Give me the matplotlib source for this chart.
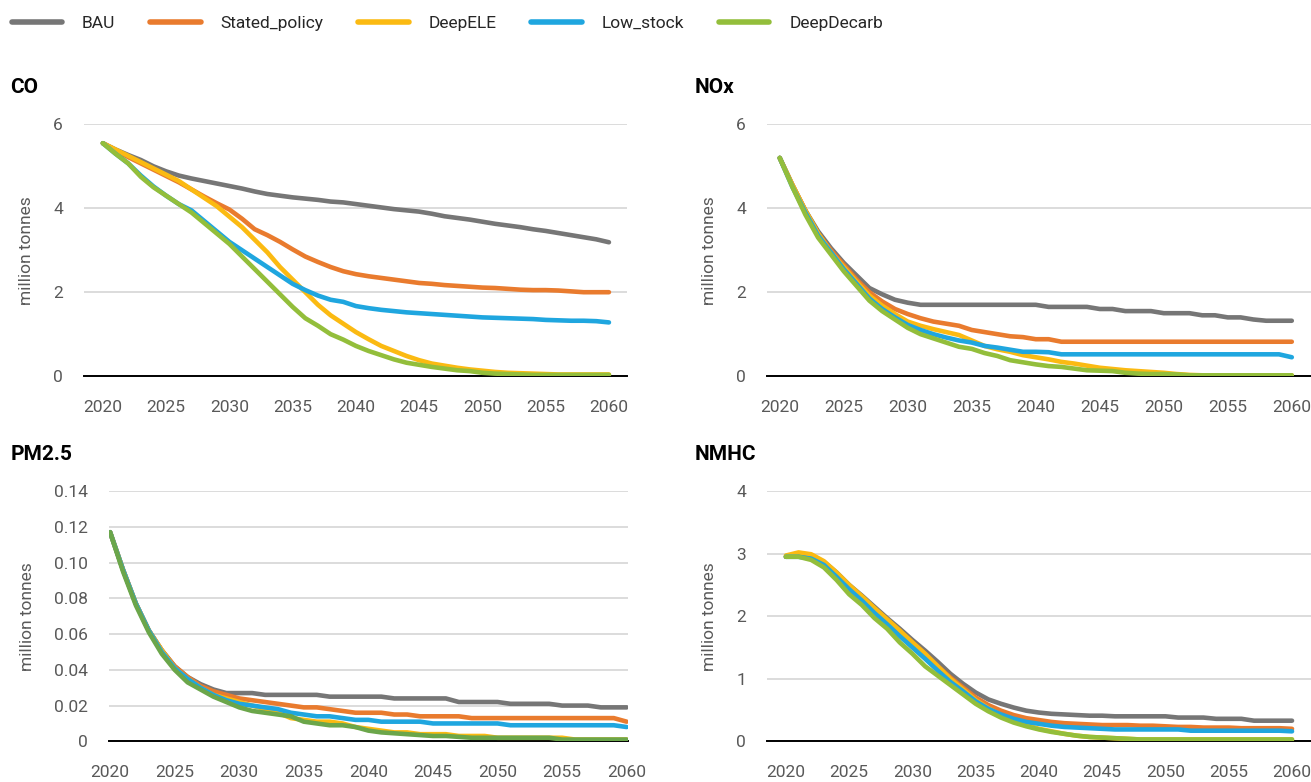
import numpy as np
import matplotlib
matplotlib.use("Agg")
import matplotlib.pyplot as plt
from matplotlib.lines import Line2D

plt.rcParams['font.family'] = ['Roboto', 'DejaVu Sans']

years = list(range(2020, 2061))
scenarios = ['BAU', 'Stated_policy', 'DeepELE', 'Low_stock', 'DeepDecarb']
colors = ['#767676', '#E97B2E', '#FBBA12', '#1FA6DF', '#93BE3B']

# CO, million tonnes
co_bau = [5.55, 5.40, 5.27, 5.15, 5.00, 4.88, 4.78, 4.71, 4.65, 4.59,
          4.53, 4.47, 4.40, 4.34, 4.30, 4.26, 4.23, 4.20, 4.16, 4.14,
          4.10, 4.06, 4.02, 3.98, 3.95, 3.92, 3.87, 3.81, 3.77, 3.73,
          3.68, 3.63, 3.59, 3.55, 3.50, 3.46, 3.41, 3.36, 3.31, 3.26, 3.19]
co_stated = [5.55, 5.38, 5.22, 5.07, 4.92, 4.77, 4.62, 4.45, 4.28, 4.12,
             3.97, 3.75, 3.50, 3.36, 3.20, 3.02, 2.85, 2.72, 2.60, 2.50,
             2.43, 2.38, 2.34, 2.30, 2.26, 2.22, 2.20, 2.17, 2.15, 2.13,
             2.11, 2.10, 2.08, 2.06, 2.05, 2.05, 2.04, 2.02, 2.00, 2.00, 2.00]
co_deepele = [5.55, 5.40, 5.25, 5.10, 4.95, 4.80, 4.65, 4.45, 4.25, 4.05,
              3.80, 3.55, 3.25, 2.95, 2.60, 2.30, 2.00, 1.70, 1.45, 1.25,
              1.05, 0.88, 0.72, 0.60, 0.48, 0.38, 0.30, 0.25, 0.20, 0.16,
              0.13, 0.10, 0.08, 0.07, 0.06, 0.05, 0.04, 0.04, 0.04, 0.04, 0.04]
co_lowstock = [5.55, 5.30, 5.07, 4.78, 4.52, 4.30, 4.10, 3.95, 3.70, 3.45,
               3.20, 3.00, 2.80, 2.60, 2.40, 2.20, 2.05, 1.92, 1.82, 1.77,
               1.67, 1.62, 1.58, 1.55, 1.52, 1.50, 1.48, 1.46, 1.44, 1.42,
               1.40, 1.39, 1.38, 1.37, 1.36, 1.34, 1.33, 1.32, 1.32, 1.31, 1.28]
co_deepdecarb = [5.55, 5.30, 5.07, 4.75, 4.50, 4.30, 4.10, 3.90, 3.65, 3.40,
                 3.15, 2.85, 2.55, 2.25, 1.95, 1.65, 1.38, 1.20, 1.00, 0.87,
                 0.72, 0.60, 0.50, 0.40, 0.32, 0.27, 0.22, 0.18, 0.14, 0.12,
                 0.08, 0.06, 0.05, 0.04, 0.03, 0.03, 0.03, 0.03, 0.03, 0.03, 0.03]

# NOx, million tonnes
nox_bau = [5.20, 4.55, 3.95, 3.45, 3.05, 2.70, 2.40, 2.10, 1.95, 1.82,
           1.75, 1.70, 1.70, 1.70, 1.70, 1.70, 1.70, 1.70, 1.70, 1.70,
           1.70, 1.65, 1.65, 1.65, 1.65, 1.60, 1.60, 1.55, 1.55, 1.55,
           1.50, 1.50, 1.50, 1.45, 1.45, 1.40, 1.40, 1.35, 1.32, 1.32, 1.32]
nox_stated = [5.20, 4.55, 3.95, 3.40, 3.00, 2.65, 2.30, 2.00, 1.78, 1.60,
              1.48, 1.38, 1.30, 1.25, 1.20, 1.10, 1.05, 1.00, 0.95, 0.93,
              0.88, 0.88, 0.82, 0.82, 0.82, 0.82, 0.82, 0.82, 0.82, 0.82,
              0.82, 0.82, 0.82, 0.82, 0.82, 0.82, 0.82, 0.82, 0.82, 0.82, 0.82]
nox_deepele = [5.20, 4.55, 3.95, 3.40, 2.95, 2.60, 2.25, 1.92, 1.68, 1.48,
               1.30, 1.20, 1.12, 1.05, 0.98, 0.85, 0.72, 0.64, 0.58, 0.50,
               0.45, 0.40, 0.34, 0.30, 0.25, 0.20, 0.17, 0.14, 0.12, 0.10,
               0.08, 0.05, 0.03, 0.02, 0.02, 0.02, 0.02, 0.02, 0.02, 0.02, 0.02]
nox_lowstock = [5.20, 4.50, 3.90, 3.35, 2.95, 2.55, 2.20, 1.85, 1.60, 1.40,
                1.22, 1.10, 1.00, 0.92, 0.85, 0.80, 0.72, 0.68, 0.63, 0.58,
                0.58, 0.57, 0.52, 0.52, 0.52, 0.52, 0.52, 0.52, 0.52, 0.52,
                0.52, 0.52, 0.52, 0.52, 0.52, 0.52, 0.52, 0.52, 0.52, 0.52, 0.45]
nox_deepdecarb = [5.20, 4.50, 3.85, 3.30, 2.90, 2.50, 2.15, 1.80, 1.55, 1.35,
                  1.15, 1.00, 0.90, 0.80, 0.70, 0.65, 0.55, 0.48, 0.38, 0.33,
                  0.28, 0.24, 0.22, 0.18, 0.14, 0.13, 0.12, 0.08, 0.06, 0.05,
                  0.05, 0.04, 0.02, 0.02, 0.02, 0.02, 0.02, 0.02, 0.02, 0.02, 0.02]

# PM2.5, million tonnes
pm_bau = [0.117, 0.096, 0.077, 0.062, 0.051, 0.042, 0.036, 0.032, 0.029, 0.027,
          0.027, 0.027, 0.026, 0.026, 0.026, 0.026, 0.026, 0.025, 0.025, 0.025,
          0.025, 0.025, 0.024, 0.024, 0.024, 0.024, 0.024, 0.022, 0.022, 0.022,
          0.022, 0.021, 0.021, 0.021, 0.021, 0.020, 0.020, 0.020, 0.019, 0.019, 0.019]
pm_stated = [0.117, 0.096, 0.077, 0.062, 0.051, 0.042, 0.036, 0.031, 0.028, 0.026,
             0.024, 0.023, 0.022, 0.021, 0.020, 0.019, 0.019, 0.018, 0.017, 0.016,
             0.016, 0.016, 0.015, 0.015, 0.014, 0.014, 0.014, 0.014, 0.013, 0.013,
             0.013, 0.013, 0.013, 0.013, 0.013, 0.013, 0.013, 0.013, 0.013, 0.013, 0.011]
pm_deepele = [0.117, 0.096, 0.077, 0.062, 0.051, 0.041, 0.035, 0.030, 0.026, 0.024,
              0.022, 0.020, 0.018, 0.016, 0.013, 0.012, 0.011, 0.011, 0.010, 0.008,
              0.007, 0.006, 0.005, 0.005, 0.004, 0.004, 0.004, 0.003, 0.003, 0.003,
              0.002, 0.002, 0.002, 0.002, 0.002, 0.002, 0.001, 0.001, 0.001, 0.001, 0.001]
pm_lowstock = [0.117, 0.096, 0.077, 0.062, 0.050, 0.041, 0.035, 0.030, 0.026, 0.023,
               0.021, 0.020, 0.019, 0.018, 0.016, 0.015, 0.014, 0.014, 0.013, 0.012,
               0.012, 0.011, 0.011, 0.011, 0.011, 0.010, 0.010, 0.010, 0.010, 0.010,
               0.010, 0.009, 0.009, 0.009, 0.009, 0.009, 0.009, 0.009, 0.009, 0.009, 0.008]
pm_deepdecarb = [0.117, 0.095, 0.076, 0.061, 0.049, 0.040, 0.033, 0.029, 0.025, 0.022,
                 0.019, 0.017, 0.016, 0.015, 0.014, 0.011, 0.010, 0.009, 0.009, 0.008,
                 0.006, 0.005, 0.0045, 0.004, 0.0035, 0.003, 0.003, 0.0025, 0.002, 0.002,
                 0.002, 0.002, 0.002, 0.002, 0.002, 0.001, 0.001, 0.001, 0.001, 0.001, 0.001]

# NMHC, million tonnes
nmhc_bau = [2.95, 3.00, 2.97, 2.87, 2.70, 2.50, 2.33, 2.15, 1.97, 1.80,
            1.62, 1.45, 1.27, 1.08, 0.92, 0.78, 0.67, 0.60, 0.54, 0.49,
            0.46, 0.44, 0.43, 0.42, 0.41, 0.41, 0.40, 0.40, 0.40, 0.40,
            0.40, 0.38, 0.38, 0.38, 0.36, 0.36, 0.36, 0.33, 0.33, 0.33, 0.33]
nmhc_stated = [2.95, 3.00, 2.97, 2.86, 2.68, 2.48, 2.30, 2.12, 1.94, 1.76,
               1.58, 1.40, 1.20, 1.02, 0.86, 0.70, 0.58, 0.49, 0.42, 0.37,
               0.34, 0.31, 0.29, 0.28, 0.27, 0.26, 0.26, 0.26, 0.25, 0.25,
               0.24, 0.23, 0.23, 0.22, 0.22, 0.22, 0.21, 0.21, 0.21, 0.21, 0.20]
nmhc_deepele = [2.97, 3.02, 2.99, 2.88, 2.70, 2.50, 2.32, 2.13, 1.95, 1.77,
                1.58, 1.40, 1.20, 1.00, 0.83, 0.66, 0.53, 0.42, 0.33, 0.26,
                0.20, 0.16, 0.12, 0.09, 0.07, 0.06, 0.05, 0.04, 0.03, 0.03,
                0.03, 0.03, 0.03, 0.03, 0.03, 0.03, 0.03, 0.03, 0.03, 0.03, 0.03]
nmhc_lowstock = [2.95, 2.95, 2.92, 2.82, 2.63, 2.43, 2.25, 2.05, 1.87, 1.68,
                 1.50, 1.32, 1.13, 0.95, 0.80, 0.64, 0.52, 0.43, 0.36, 0.31,
                 0.28, 0.25, 0.23, 0.22, 0.21, 0.20, 0.19, 0.19, 0.19, 0.19,
                 0.19, 0.19, 0.17, 0.17, 0.17, 0.17, 0.17, 0.17, 0.17, 0.17, 0.16]
nmhc_deepdecarb = [2.95, 2.95, 2.90, 2.78, 2.58, 2.35, 2.18, 1.97, 1.80, 1.58,
                   1.40, 1.20, 1.05, 0.90, 0.75, 0.60, 0.48, 0.38, 0.30, 0.24,
                   0.19, 0.15, 0.12, 0.09, 0.07, 0.06, 0.05, 0.04, 0.03, 0.03,
                   0.03, 0.03, 0.03, 0.03, 0.03, 0.03, 0.03, 0.03, 0.03, 0.03, 0.03]

panels = [
    ('CO', [co_bau, co_stated, co_deepele, co_lowstock, co_deepdecarb],
     [0.064, 0.519, 0.414, 0.322], (0, 6), [0, 2, 4, 6], (2018.5, 2061.4), '{:.0f}'),
    ('NOx', [nox_bau, nox_stated, nox_deepele, nox_lowstock, nox_deepdecarb],
     [0.585, 0.519, 0.415, 0.322], (0, 6), [0, 2, 4, 6], (2019.0, 2061.5), '{:.0f}'),
    ('PM2.5', [pm_bau, pm_stated, pm_deepele, pm_lowstock, pm_deepdecarb],
     [0.083, 0.052, 0.396, 0.320], (0, 0.14), [0, 0.02, 0.04, 0.06, 0.08, 0.10, 0.12, 0.14],
     (2019.9, 2060.1), '{:.2f}'),
    ('NMHC', [nmhc_bau, nmhc_stated, nmhc_deepele, nmhc_lowstock, nmhc_deepdecarb],
     [0.585, 0.052, 0.415, 0.320], (0, 4), [0, 1, 2, 3, 4], (2018.5, 2061.5), '{:.0f}'),
]

fig = plt.figure(figsize=(13.11, 7.82), dpi=100)
grey_txt = '#595959'

for title, series, rect, ylim, yticks, xlim, fmt in panels:
    ax = fig.add_axes(rect)
    for name, vals, col in zip(scenarios, series, colors):
        if title == 'PM2.5' and name == 'DeepDecarb':
            col = '#6BA64A'
        ax.plot(years, vals, color=col, lw=3.3, solid_capstyle='round',
                solid_joinstyle='round', zorder=3)
    ax.set_ylim(*ylim)
    ax.set_xlim(*xlim)
    ax.set_yticks(yticks)
    ax.set_yticklabels(['0' if v == 0 else fmt.format(v) for v in yticks])
    ax.set_xticks(range(2020, 2061, 5))
    ax.grid(axis='y', color='#D9D9D9', lw=1.3, zorder=0)
    for s in ['top', 'right', 'left']:
        ax.spines[s].set_visible(False)
    ax.spines['bottom'].set_color('black')
    ax.spines['bottom'].set_linewidth(1.4)
    ax.tick_params(length=0, labelsize=12.5, colors=grey_txt)
    ax.tick_params(axis='x', pad=17)
    ax.tick_params(axis='y', pad=15)
    ax.set_ylabel('million tonnes', fontsize=12.5, color=grey_txt, labelpad=14)
    fx = 0.008 if rect[0] < 0.5 else 0.530
    fig.text(fx, rect[1] + rect[3] + 0.035, title, fontsize=15, fontweight='bold',
             color='black', va='bottom')

handles = [Line2D([0], [0], color=c, lw=4, solid_capstyle='round') for c in colors]
fig.legend(handles, scenarios, loc='upper left', bbox_to_anchor=(0.009, 0.980), ncol=5,
           frameon=False, fontsize=12.5, handlelength=2.9, columnspacing=2.0,
           handletextpad=1.15, borderpad=0, borderaxespad=0, labelcolor='#262626')

fig.savefig('out.png', dpi=100)
